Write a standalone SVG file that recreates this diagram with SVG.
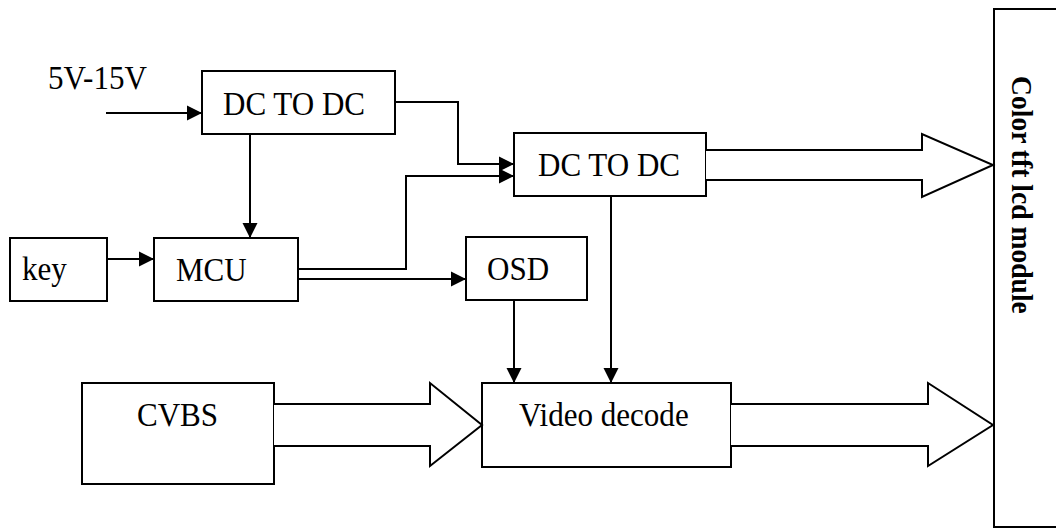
<svg xmlns="http://www.w3.org/2000/svg" width="1056" height="529" viewBox="0 0 1056 529">
<style>
.box{fill:#fff;stroke:#000;stroke-width:2}
.t{font-family:"Liberation Serif","Times New Roman",serif;font-size:34.5px;fill:#000}
.tb{font-family:"Liberation Serif","Times New Roman",serif;font-size:30px;font-weight:bold;fill:#000}
.ln{fill:none;stroke:#000;stroke-width:2}
.big{fill:#fff;stroke:#000;stroke-width:2;stroke-linejoin:miter}
</style>
<defs>
<marker id="ah" markerUnits="userSpaceOnUse" markerWidth="16" markerHeight="16" viewBox="0 0 16 16" refX="15" refY="8" orient="auto">
<path d="M0,0.5 L15,8 L0,15.5 Z" fill="#000"/>
</marker>
</defs>
<rect width="1056" height="529" fill="#fff"/>
<text class="t" transform="translate(48,89) scale(0.9,1)">5V-15V</text>
<g id="dc1"><rect class="box" x="202" y="71" width="193" height="63"/><text class="t" transform="translate(223,115) scale(0.9,1)">DC TO DC</text></g>
<g id="dc2"><rect class="box" x="514" y="133" width="192" height="63"/><text class="t" transform="translate(538,176) scale(0.9,1)">DC TO DC</text></g>
<g id="key"><rect class="box" x="10" y="238" width="97" height="63"/><text class="t" transform="translate(22,280) scale(0.9,1)">key</text></g>
<g id="mcu"><rect class="box" x="154" y="238" width="144" height="63"/><text class="t" transform="translate(176,281) scale(0.9,1)">MCU</text></g>
<g id="osd"><rect class="box" x="466" y="237" width="121" height="63"/><text class="t" transform="translate(487,280) scale(0.9,1)">OSD</text></g>
<g id="cvbs"><rect class="box" x="82" y="383" width="192" height="101"/><text class="t" transform="translate(137,426) scale(0.9,1)">CVBS</text></g>
<g id="video"><rect class="box" x="482" y="383" width="249" height="84"/><text class="t" transform="translate(519,426) scale(0.9,1)">Video decode</text></g>
<g id="lcd"><rect class="box" x="994" y="9" width="70" height="518"/><text class="tb" transform="translate(1012,76) rotate(90) scale(0.92,1)">Color tft lcd module</text></g>
<g id="connectors">
<path class="ln" d="M106,113 H202" marker-end="url(#ah)"/>
<path class="ln" d="M250,134 V238" marker-end="url(#ah)"/>
<path class="ln" d="M107,259 H154" marker-end="url(#ah)"/>
<path class="ln" d="M395,102 H458 V164 H514" marker-end="url(#ah)"/>
<path class="ln" d="M298,269 H406 V176 H514" marker-end="url(#ah)"/>
<path class="ln" d="M298,279 H466" marker-end="url(#ah)"/>
<path class="ln" d="M514,300 V383" marker-end="url(#ah)"/>
<path class="ln" d="M611,196 V383" marker-end="url(#ah)"/>
<polyline class="big" points="706,150 922,150 922,134 993,165 922,197 922,180 706,180"/>
<polyline class="big" points="274,404 430,404 430,383 482,425 430,466 430,446 274,446"/>
<polyline class="big" points="731,404 928,404 928,383 993,425 928,466 928,446 731,446"/>
</g>
</svg>
